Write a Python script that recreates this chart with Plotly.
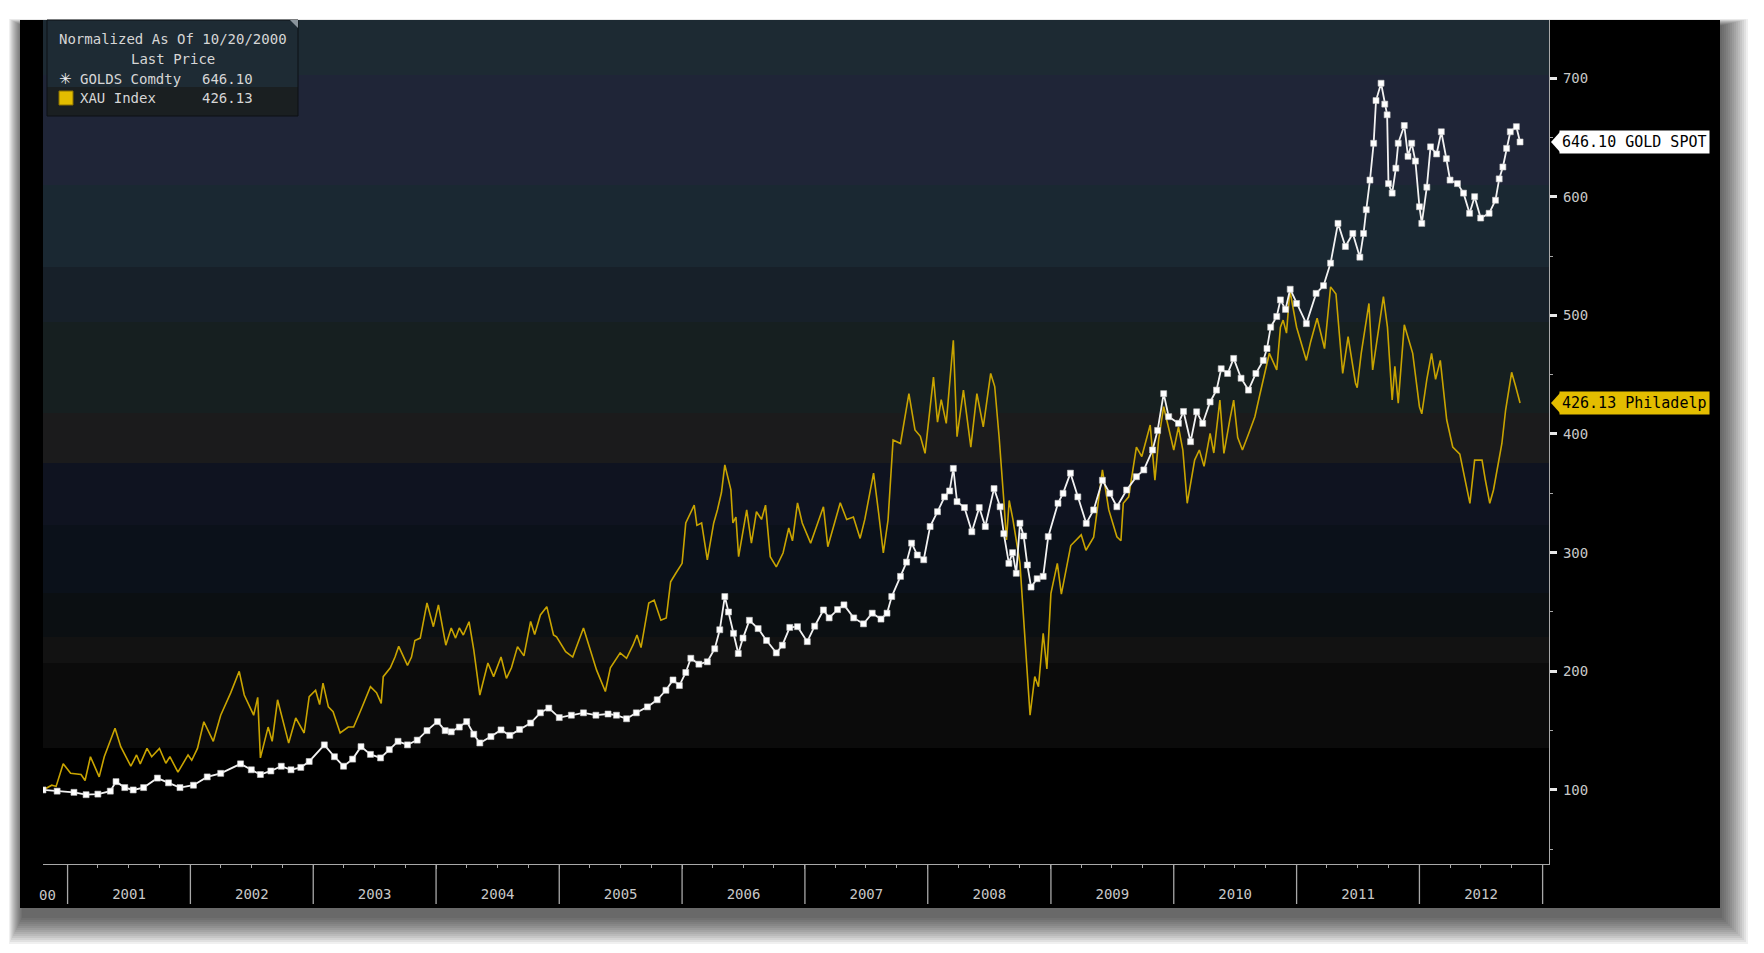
import plotly.graph_objects as go

# ---------------- data (normalized to 100 as of 10/20/2000) ----------------
gold_dates = [
    "2000-10-20", "2000-12-01", "2001-01-20", "2001-02-25", "2001-04-01", "2001-05-08", "2001-05-25",
    "2001-06-20", "2001-07-15", "2001-08-15", "2001-09-25", "2001-10-28", "2001-12-01", "2002-01-10",
    "2002-02-20", "2002-04-01", "2002-05-30", "2002-07-01", "2002-07-28", "2002-08-28", "2002-09-28",
    "2002-10-27", "2002-11-25", "2002-12-20", "2003-02-03", "2003-03-05", "2003-04-01", "2003-04-28",
    "2003-05-23", "2003-06-20", "2003-07-20", "2003-08-15", "2003-09-10", "2003-10-08", "2003-11-06",
    "2003-12-05", "2004-01-05", "2004-01-28", "2004-02-15", "2004-03-10", "2004-04-01", "2004-04-22",
    "2004-05-10", "2004-06-12", "2004-07-12", "2004-08-07", "2004-09-05", "2004-10-08", "2004-11-06",
    "2004-12-01", "2005-01-01", "2005-02-06", "2005-03-14", "2005-04-20", "2005-05-26", "2005-06-20",
    "2005-07-20", "2005-08-18", "2005-09-20", "2005-10-19", "2005-11-14", "2005-12-05", "2005-12-24",
    "2006-01-12", "2006-01-27", "2006-02-20", "2006-03-17", "2006-04-08", "2006-04-23", "2006-05-08",
    "2006-05-19", "2006-06-03", "2006-06-17", "2006-07-01", "2006-07-20", "2006-08-15", "2006-09-09",
    "2006-10-08", "2006-10-26", "2006-11-17", "2006-12-10", "2007-01-08", "2007-01-30", "2007-02-25",
    "2007-03-14", "2007-04-08", "2007-04-27", "2007-05-26", "2007-06-24", "2007-07-20", "2007-08-15",
    "2007-09-02", "2007-09-16", "2007-10-12", "2007-10-30", "2007-11-14", "2007-12-01", "2007-12-20",
    "2008-01-08", "2008-01-30", "2008-02-20", "2008-03-06", "2008-03-17", "2008-03-28", "2008-04-19",
    "2008-05-11", "2008-06-02", "2008-06-20", "2008-07-16", "2008-08-03", "2008-08-14", "2008-08-29",
    "2008-09-09", "2008-09-20", "2008-10-01", "2008-10-12", "2008-10-23", "2008-11-03", "2008-11-21",
    "2008-12-09", "2008-12-24", "2009-01-22", "2009-02-06", "2009-02-28", "2009-03-22", "2009-04-16",
    "2009-05-08", "2009-06-03", "2009-06-25", "2009-07-16", "2009-08-14", "2009-09-12", "2009-10-04",
    "2009-10-30", "2009-11-14", "2009-12-02", "2009-12-17", "2010-01-15", "2010-01-30", "2010-02-20",
    "2010-03-10", "2010-03-28", "2010-04-19", "2010-05-08", "2010-05-22", "2010-06-10", "2010-06-28",
    "2010-07-20", "2010-08-11", "2010-09-02", "2010-09-24", "2010-10-05", "2010-10-16", "2010-11-03",
    "2010-11-14", "2010-11-29", "2010-12-13", "2011-01-01", "2011-01-30", "2011-02-28", "2011-03-22",
    "2011-04-12", "2011-05-04", "2011-05-26", "2011-06-17", "2011-07-08", "2011-07-19", "2011-07-27",
    "2011-08-07", "2011-08-18", "2011-08-25", "2011-09-09", "2011-09-20", "2011-09-27", "2011-10-01",
    "2011-10-12", "2011-10-23", "2011-10-30", "2011-11-17", "2011-11-28", "2011-12-09", "2011-12-20",
    "2012-01-01", "2012-01-08", "2012-01-23", "2012-02-03", "2012-02-21", "2012-03-06", "2012-03-21",
    "2012-04-01", "2012-04-23", "2012-05-11", "2012-05-29", "2012-06-13", "2012-07-01", "2012-07-26",
    "2012-08-14", "2012-08-25", "2012-09-05", "2012-09-16", "2012-09-27", "2012-10-15", "2012-10-26",
]
gold_values = [
    100, 99, 98, 96, 96.5, 99, 107,
    102, 100, 102, 110, 106, 102, 104,
    111, 114, 122, 117, 113, 116, 120,
    117, 119, 124, 138, 128, 120, 126,
    136.5, 130, 127, 134, 141, 138, 142,
    150, 157.6, 150, 149, 153, 157.6, 147,
    139.6, 145, 150.6, 146, 151, 156.4, 165,
    169, 161, 163, 165, 163, 164, 163,
    160, 165, 170, 176, 184, 192.7, 188,
    199, 211, 206, 208, 219, 235, 263,
    250, 232, 215, 228, 243, 236, 226,
    215.5, 222, 237, 237.6, 225, 238, 251.7,
    245, 252, 256, 245, 240, 249, 244,
    249, 263, 280, 292, 308, 298, 294,
    322, 334.5, 347, 352, 371, 343, 338,
    317.6, 338, 322, 354, 338.7, 316, 291,
    300, 282.6, 324.8, 314, 289.6, 271, 278,
    280, 313.5, 341.6, 350, 367, 347, 324.7,
    336, 361, 350, 338.7, 352.8, 364, 369.7,
    386.5, 403, 434, 414.6, 409, 419, 393.5,
    418.7, 409, 427, 437, 455, 451, 463.7,
    447, 437, 451, 462, 472, 490, 499,
    513, 505, 522, 510, 493, 518.5, 525,
    544, 577.5, 558, 569, 549, 569, 589,
    614, 645, 681, 695.6, 678, 669, 611,
    603, 624, 645, 660, 634, 645, 630,
    591.5, 577.5, 608, 642, 636, 654.7, 632,
    614, 611, 603, 586, 600, 582, 586,
    597, 615, 625, 640.7, 654.7, 659, 646.10,
]

xau_dates = [
    "2000-10-20", "2000-11-15", "2000-11-28", "2000-12-19", "2001-01-10", "2001-02-10", "2001-02-22",
    "2001-03-10", "2001-04-05", "2001-04-20", "2001-05-22", "2001-06-08", "2001-07-08", "2001-07-25",
    "2001-08-05", "2001-08-25", "2001-09-08", "2001-10-01", "2001-10-20", "2001-11-01", "2001-11-25",
    "2001-12-25", "2002-01-05", "2002-01-22", "2002-02-10", "2002-03-10", "2002-04-01", "2002-05-01",
    "2002-05-26", "2002-06-10", "2002-07-08", "2002-07-20", "2002-07-28", "2002-08-20", "2002-09-01",
    "2002-09-17", "2002-10-20", "2002-11-10", "2002-12-05", "2002-12-20", "2003-01-08", "2003-01-20",
    "2003-01-30", "2003-02-15", "2003-03-01", "2003-03-22", "2003-04-15", "2003-05-01", "2003-05-22",
    "2003-06-20", "2003-07-08", "2003-07-22", "2003-07-28", "2003-08-18", "2003-09-01", "2003-09-12",
    "2003-10-08", "2003-10-20", "2003-10-30", "2003-11-15", "2003-12-05", "2003-12-24", "2004-01-08",
    "2004-01-30", "2004-02-15", "2004-02-28", "2004-03-10", "2004-03-22", "2004-04-08", "2004-04-22",
    "2004-05-10", "2004-06-03", "2004-06-20", "2004-07-12", "2004-07-28", "2004-08-12", "2004-08-30",
    "2004-09-18", "2004-10-08", "2004-10-20", "2004-11-06", "2004-11-25", "2004-12-15", "2004-12-24",
    "2005-01-20", "2005-02-10", "2005-03-14", "2005-04-22", "2005-05-18", "2005-06-02", "2005-07-01",
    "2005-07-20", "2005-08-08", "2005-08-20", "2005-09-01", "2005-09-24", "2005-10-10", "2005-10-30",
    "2005-11-15", "2005-11-28", "2005-12-12", "2006-01-01", "2006-01-12", "2006-02-06", "2006-02-14",
    "2006-02-28", "2006-03-17", "2006-04-05", "2006-04-16", "2006-04-28", "2006-05-08", "2006-05-26",
    "2006-06-01", "2006-06-10", "2006-06-18", "2006-07-12", "2006-07-26", "2006-08-10", "2006-08-25",
    "2006-09-06", "2006-09-20", "2006-10-08", "2006-10-28", "2006-11-14", "2006-11-25", "2006-12-10",
    "2006-12-24", "2007-01-18", "2007-02-25", "2007-03-10", "2007-04-16", "2007-05-05", "2007-05-25",
    "2007-06-14", "2007-06-28", "2007-07-24", "2007-08-08", "2007-08-22", "2007-09-05", "2007-09-20",
    "2007-10-12", "2007-11-06", "2007-11-24", "2007-12-10", "2007-12-24", "2008-01-18", "2008-01-30",
    "2008-02-10", "2008-02-25", "2008-03-17", "2008-03-28", "2008-04-16", "2008-05-08", "2008-05-26",
    "2008-06-14", "2008-07-06", "2008-07-18", "2008-07-31", "2008-08-14", "2008-08-22", "2008-08-30",
    "2008-09-10", "2008-10-01", "2008-10-16", "2008-10-31", "2008-11-14", "2008-11-25", "2008-12-09",
    "2008-12-20", "2009-01-01", "2009-01-20", "2009-02-01", "2009-03-01", "2009-04-01", "2009-04-15",
    "2009-05-08", "2009-06-03", "2009-06-22", "2009-07-16", "2009-07-28", "2009-08-04", "2009-08-20",
    "2009-09-12", "2009-09-28", "2009-10-23", "2009-11-06", "2009-11-17", "2009-12-02", "2009-12-17",
    "2010-01-01", "2010-01-15", "2010-01-28", "2010-02-10", "2010-03-04", "2010-03-18", "2010-04-01",
    "2010-04-19", "2010-04-30", "2010-05-18", "2010-05-30", "2010-06-16", "2010-06-28", "2010-07-10",
    "2010-07-24", "2010-08-12", "2010-08-30", "2010-09-12", "2010-09-27", "2010-10-12", "2010-11-03",
    "2010-11-14", "2010-11-22", "2010-12-02", "2010-12-12", "2011-01-01", "2011-01-30", "2011-02-12",
    "2011-03-03", "2011-03-25", "2011-04-12", "2011-04-28", "2011-05-18", "2011-06-03", "2011-06-25",
    "2011-06-30", "2011-07-12", "2011-08-04", "2011-08-15", "2011-08-30", "2011-09-16", "2011-09-28",
    "2011-10-12", "2011-10-20", "2011-10-30", "2011-11-17", "2011-12-12", "2012-01-01", "2012-01-08",
    "2012-01-23", "2012-02-06", "2012-02-18", "2012-03-03", "2012-03-22", "2012-04-09", "2012-04-30",
    "2012-05-15", "2012-05-30", "2012-06-13", "2012-07-05", "2012-07-15", "2012-07-28", "2012-08-08",
    "2012-09-02", "2012-09-13", "2012-10-01", "2012-10-12", "2012-10-26",
]
xau_values = [
    100, 104, 103, 122, 114, 113, 108,
    128, 111, 128, 152, 136.5, 120, 129.5,
    122, 135, 128, 135, 122.5, 128, 115,
    129.5, 125, 135, 157.5, 141, 163, 182,
    200, 180, 163, 178, 127, 153, 141,
    176, 139.5, 160.7, 148, 178.6, 184, 172,
    190, 170, 166, 148, 153, 153, 167,
    187, 182, 173, 195.5, 203, 212, 221,
    205, 212, 226, 228, 257.6, 237.6, 256,
    222, 236.5, 228, 236.5, 230.6, 241.8, 218,
    180, 207, 195.5, 212, 194, 203, 220.8,
    213, 242, 231, 247.5, 254.5, 230.6, 229,
    216.5, 212, 236.5, 201, 183, 203, 215.5,
    211, 222, 230.6, 220, 257.6, 260, 243,
    245, 275.5, 282, 291, 325, 340, 323,
    325, 294, 325, 336, 350.7, 374, 353,
    325, 330, 296.6, 336, 308, 334.5, 328,
    340, 296.6, 288, 299.7, 320.8, 310, 342,
    325, 308, 338.7, 305, 342, 328, 330,
    312, 328, 367, 333.4, 299.7, 327.5, 395,
    392, 434, 403.4, 398, 383.7, 448, 410,
    429, 409, 479, 397.7, 437, 389, 434,
    406, 451, 440, 397.7, 344, 310.7, 344,
    328, 291, 229, 163, 195.5, 187, 232,
    202, 265.7, 291, 265, 306, 315, 302,
    313, 369.7, 336, 313.4, 310, 341.6, 347,
    389, 381, 407.6, 361, 395, 423, 406,
    386.5, 406, 386.5, 341.6, 378, 386.5, 372.7,
    400.6, 384, 428.6, 383.7, 411, 428.6, 397,
    386.5, 400.6, 414.6, 431, 451, 468, 454,
    490, 496, 485, 521, 490, 462, 478,
    497.5, 472, 524, 518, 451, 482, 443,
    439, 468, 510, 454, 482, 515.7, 490,
    428.6, 457, 426, 492, 468, 423, 417,
    446, 468, 446, 462, 412, 389, 383,
    361, 341.6, 378, 378, 361, 341.6, 352.8,
    392, 420, 452, 441, 426.13,
]

year_ticks = ["2001-01-01", "2002-01-01", "2003-01-01", "2004-01-01", "2005-01-01", "2006-01-01",
              "2007-01-01", "2008-01-01", "2009-01-01", "2010-01-01", "2011-01-01", "2012-01-01",
              "2013-01-01"]
y_ticks = [100, 200, 300, 400, 500, 600, 700]

# ---------------- layout geometry (page pixels; the page body adds an 8px offset) ----------------
OFF = 8
W, H = 1764 - OFF, 953 - OFF
PL, PR, PT, PB = 43, 1549, 20, 864   # plot area in page pixels
PW, PH = PR - PL, PB - PT


def px(x):
    return (x - PL) / PW


def py(y):
    return (PB - y) / PH


GOLD_COL = "#c9a400"
LABEL_YEL = "#e3bd00"
AXIS_COL = "#a8a8a8"
MONO = "DejaVu Sans Mono"

fig = go.Figure()

fig.add_trace(go.Scatter(
    x=xau_dates, y=xau_values, mode="lines", name="XAU Index",
    line=dict(color=GOLD_COL, width=1.6), showlegend=False,
))
fig.add_trace(go.Scatter(
    x=gold_dates, y=gold_values, mode="lines+markers", name="GOLDS Comdty",
    line=dict(color="#f2f2f2", width=1.8),
    marker=dict(symbol="square", size=6, color="#ffffff", line=dict(color="#c8c8c8", width=0.6)),
    showlegend=False,
))

shapes = []

# drop shadow of the black panel (mostly below and to the right)
for i in range(14):
    g = 2 + i * 2
    shapes.append(dict(type="rect", xref="paper", yref="paper", layer="below",
                       x0=px(20 - g * 0.5 + 3), x1=px(1720 + g),
                       y0=py(908 + 8 + g), y1=py(20 + 6 - g * 0.25),
                       line=dict(width=0), fillcolor="rgba(0,0,0,0.06)"))
# black panel
shapes.append(dict(type="rect", xref="paper", yref="paper", layer="below",
                   x0=px(20), x1=px(1720), y0=py(908), y1=py(20),
                   line=dict(width=0), fillcolor="#000000"))

# horizontal background bands (page pixel rows, colour)
bands = [
    (20, 75, "#1d2a33"), (75, 185, "#1f2537"), (185, 267, "#1a2832"), (267, 322, "#172029"),
    (322, 413, "#161f20"), (413, 463, "#1b1b1c"), (463, 525, "#0f1320"), (525, 593, "#0b111a"),
    (593, 637, "#0b0f12"), (637, 663, "#121212"), (663, 748, "#0b0b0b"), (748, 864, "#000000"),
]
for y0, y1, c in bands:
    shapes.append(dict(type="rect", xref="paper", yref="paper", layer="below",
                       x0=0, x1=1, y0=py(y1), y1=py(y0), line=dict(width=0), fillcolor=c))

# year separators below the x axis
for d in year_ticks:
    shapes.append(dict(type="line", xref="x", yref="paper", x0=d, x1=d,
                       y0=py(904), y1=py(864), line=dict(color=AXIS_COL, width=1.3)))

# legend box
shapes.append(dict(type="rect", xref="paper", yref="paper", x0=px(47), x1=px(298),
                   y0=py(87), y1=py(20), line=dict(width=0), fillcolor="#1e2b34"))
shapes.append(dict(type="rect", xref="paper", yref="paper", x0=px(47), x1=px(298),
                   y0=py(116), y1=py(87), line=dict(width=0), fillcolor="#1a1f21"))
shapes.append(dict(type="rect", xref="paper", yref="paper", x0=px(47), x1=px(298),
                   y0=py(116), y1=py(20), line=dict(color="#0c1014", width=1), fillcolor="rgba(0,0,0,0)"))
shapes.append(dict(type="rect", xref="paper", yref="paper", x0=px(59), x1=px(73),
                   y0=py(105), y1=py(91), line=dict(color="#8a7000", width=1), fillcolor=LABEL_YEL))
shapes.append(dict(type="path", xref="paper", yref="paper",
                   path=f"M {px(290)} {py(20)} L {px(298)} {py(20)} L {px(298)} {py(28)} Z",
                   line=dict(width=0), fillcolor="#8a949c"))

# right-hand last-price labels with pointers
last_gold = gold_values[-1]
last_xau = xau_values[-1]
units_per_px = (748.9 - 37.6) / PH
for val, col in ((last_gold, "#ffffff"), (last_xau, LABEL_YEL)):
    hh = 10 * units_per_px
    shapes.append(dict(type="path", xref="paper", yref="y",
                       path=f"M {px(1551)} {val} L {px(1560)} {val + hh} L {px(1560)} {val - hh} Z",
                       line=dict(width=0), fillcolor=col))

annotations = [
    dict(text="Normalized As Of 10/20/2000", x=px(173), y=py(39)),
    dict(text="Last Price", x=px(173), y=py(59)),
    dict(text="✳", x=px(65), y=py(79), font=dict(family="DejaVu Sans", size=15, color="#f0f0f0")),
    dict(text="GOLDS Comdty", x=px(78), y=py(79), xanchor="left"),
    dict(text=f"{last_gold:.2f}", x=px(200), y=py(79), xanchor="left"),
    dict(text="XAU Index", x=px(78), y=py(98), xanchor="left"),
    dict(text=f"{last_xau:.2f}", x=px(200), y=py(98), xanchor="left"),
    dict(text="00", x=px(47), y=py(895), font=dict(family=MONO, size=14, color="#c8c8c8")),
]
for a in annotations:
    a.setdefault("xref", "paper")
    a.setdefault("yref", "paper")
    a.setdefault("showarrow", False)
    a.setdefault("xanchor", "center")
    a.setdefault("yanchor", "middle")
    a.setdefault("font", dict(family=MONO, size=14, color="#d6d6d6"))

annotations.append(dict(text=f"{last_gold:.2f} GOLD SPOT", xref="paper", yref="y", x=px(1559), y=last_gold,
                        xanchor="left", yanchor="middle", showarrow=False, bgcolor="#ffffff",
                        borderpad=2, font=dict(family=MONO, size=15, color="#000000")))
annotations.append(dict(text=f"{last_xau:.2f} Philadelp", xref="paper", yref="y", x=px(1559), y=last_xau,
                        xanchor="left", yanchor="middle", showarrow=False, bgcolor=LABEL_YEL,
                        borderpad=2, font=dict(family=MONO, size=15, color="#000000")))

fig.update_layout(
    width=W, height=H, autosize=False,
    margin=dict(l=PL - OFF, r=W - (PR - OFF), t=PT - OFF, b=H - (PB - OFF), pad=0),
    paper_bgcolor="#ffffff", plot_bgcolor="#000000",
    shapes=shapes, annotations=annotations, showlegend=False,
    xaxis=dict(
        type="date", range=["2000-10-20", "2013-01-20"],
        showgrid=False, zeroline=False,
        showline=True, linecolor=AXIS_COL, linewidth=1.3,
        tick0="2001-01-01", dtick="M12", tickformat="%Y", ticklabelmode="period",
        ticks="outside", ticklen=4, tickcolor=AXIS_COL, tickwidth=1.3,
        minor=dict(dtick="M3", ticks="outside", ticklen=3, tickcolor=AXIS_COL, tickwidth=1),
        tickfont=dict(family=MONO, size=14, color="#c8c8c8"),
        ticklabelstandoff=13,
    ),
    yaxis=dict(
        side="right", range=[37.6, 748.9],
        showgrid=False, zeroline=False,
        showline=True, linecolor=AXIS_COL, linewidth=1.3,
        tickmode="array", tickvals=y_ticks,
        ticks="outside", ticklen=7, tickwidth=2.5, tickcolor="#e8e8e8",
        minor=dict(dtick=50, tick0=0, ticks="outside", ticklen=3, tickcolor=AXIS_COL, tickwidth=1),
        tickfont=dict(family=MONO, size=14, color="#c8c8c8"),
        ticklabelstandoff=3,
    ),
)

fig.write_html("out.html")
